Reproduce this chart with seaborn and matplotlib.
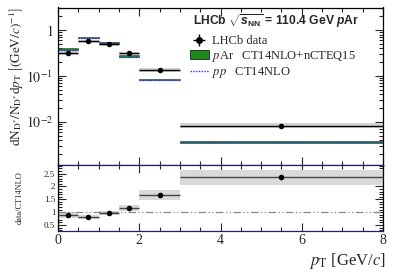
import numpy as np
import pandas as pd
import seaborn as sns
import matplotlib
matplotlib.use("Agg")
import matplotlib.pyplot as plt
from matplotlib.patches import Rectangle, Patch
from matplotlib.lines import Line2D
from matplotlib.ticker import FixedLocator, MultipleLocator, LogLocator, NullFormatter, FixedFormatter

# ---- data ----
bin_edges = [0.0, 0.5, 1.0, 1.5, 2.0, 3.0, 8.0]
data_vals = [0.32, 0.57, 0.50, 0.31, 0.135, 0.0083]
data_stat = [0.01, 0.015, 0.012, 0.01, 0.004, 0.0004]
data_syst_rel = [0.10, 0.09, 0.08, 0.09, 0.11, 0.12]
pAr_vals = [0.385, 0.70, 0.53, 0.275, 0.083, 0.0037]
pAr_rel = [0.035, 0.035, 0.035, 0.035, 0.035, 0.035]
pp_vals = [0.37, 0.685, 0.52, 0.265, 0.080, 0.0036]
ratio_vals = [0.88, 0.82, 0.97, 1.17, 1.68, 2.36]
ratio_stat = [0.02, 0.02, 0.02, 0.03, 0.03, 0.10]
ratio_syst = [0.11, 0.09, 0.08, 0.11, 0.19, 0.29]
ytick_vals = [1e-2, 1e-1, 1.0]
ytick_labels = [r"$10^{-2}$", r"$10^{-1}$", r"$1$"]

edges = np.array(bin_edges)
lo, hi = edges[:-1], edges[1:]
centers = 0.5 * (lo + hi)
halfw = 0.5 * (hi - lo)
df = pd.DataFrame({"pt": centers, "data": data_vals, "ratio": ratio_vals})

sns.set_style("ticks")
plt.rcParams["font.family"] = ["Liberation Serif", "DejaVu Serif"]
plt.rcParams["mathtext.fontset"] = "stix"
plt.rcParams["mathtext.rm"] = "Liberation Sans:bold"
plt.rcParams["mathtext.it"] = "Liberation Sans:italic:bold"
plt.rcParams["mathtext.bf"] = "Liberation Sans:bold"

fig = plt.figure(figsize=(4.07, 2.76), dpi=100)
L, R = 58 / 407, 383 / 407
ax = fig.add_axes([L, 1 - 165 / 276, R - L, (165 - 7.5) / 276])
axr = fig.add_axes([L, 1 - 231 / 276, R - L, (231 - 165) / 276])

# ---- top panel ----
for i in range(len(centers)):
    s = data_vals[i] * data_syst_rel[i]
    ax.add_patch(Rectangle((lo[i], data_vals[i] - s), hi[i] - lo[i], 2 * s,
                           facecolor="#d4d4d4", edgecolor="none", zorder=1))
    r = pAr_vals[i] * pAr_rel[i]
    ax.add_patch(Rectangle((lo[i], pAr_vals[i] - r), hi[i] - lo[i], 2 * r,
                           facecolor="#1a8a1a", edgecolor="#333333", lw=0.4, zorder=2))
    ax.plot([lo[i], hi[i]], [pp_vals[i], pp_vals[i]], color="#2233ee", lw=1.0,
            ls=(0, (1, 1)), zorder=3)
eb = ax.errorbar(centers, data_vals, xerr=halfw, yerr=data_stat, fmt="none",
                 ecolor="black", elinewidth=1.0, capsize=0, zorder=4)
sns.scatterplot(data=df, x="pt", y="data", ax=ax, color="black", s=16,
                edgecolor="black", linewidth=0, zorder=5, legend=False)
ax.set_yscale("log")
ax.set_xlim(0, 8)
ax.set_ylim(1.16e-3, 3.1)
ax.yaxis.set_major_locator(FixedLocator(ytick_vals))
ax.yaxis.set_major_formatter(FixedFormatter(ytick_labels))
ax.yaxis.set_minor_locator(LogLocator(base=10, subs=np.arange(2, 10)))
ax.yaxis.set_minor_formatter(NullFormatter())
ax.xaxis.set_major_locator(MultipleLocator(2))
ax.xaxis.set_minor_locator(MultipleLocator(0.5))
ax.tick_params(axis="x", labelbottom=False)
ax.tick_params(which="both", direction="in", top=True, right=True, labelsize=10, width=0.8)
ax.tick_params(which="major", length=6)
ax.tick_params(which="minor", length=3)
ax.set_xlabel("")
ax.set_ylabel(r"$\mathrm{dN_{D^{*}}/N_{D^{*}}d}p_{\mathrm{T}}\ \left[(\mathrm{GeV}/c)^{-1}\right]$",
              fontsize=9.5)
ax.yaxis.set_label_coords(-0.10, 0.56)
for sp in ax.spines.values():
    sp.set_color("black")
    sp.set_linewidth(0.9)
ax.spines["bottom"].set_color("#20206a")

ax.text(0.415, 0.915, r"LHCb $\sqrt{s_{\mathrm{NN}}}$ = 110.4 GeV $p$Ar",
        transform=ax.transAxes, fontsize=8.7, fontweight="bold",
        family="Liberation Sans", math_fontfamily="custom", va="center", ha="left")

marker_handle = Line2D([], [], color="black", marker="o", ms=4, ls="none")
handles = [(eb, marker_handle),
           Patch(facecolor="#1a8a1a", edgecolor="#222222", lw=0.6),
           Line2D([], [], color="#2233ee", lw=1.0, ls=(0, (1, 1)))]
labels = ["LHCb data", r"$p$Ar   CT14NLO+nCTEQ15", r"$pp$   CT14NLO"]
ax.legend(handles, labels, loc="upper left", bbox_to_anchor=(0.39, 0.855),
          frameon=False, fontsize=9, handlelength=1.5, handletextpad=0.3,
          labelspacing=0.12, borderaxespad=0)

# ---- ratio panel ----
for i in range(len(centers)):
    axr.add_patch(Rectangle((lo[i], ratio_vals[i] - ratio_syst[i]), hi[i] - lo[i],
                            2 * ratio_syst[i], facecolor="#d9d9d9",
                            edgecolor="none", zorder=1))
axr.axhline(1.0, color="#888888", lw=0.9, ls=(0, (6, 2, 1, 2, 1, 2)), zorder=2)
axr.errorbar(centers, ratio_vals, xerr=halfw, yerr=ratio_stat, fmt="none",
             ecolor="#444444", elinewidth=1.0, capsize=0, zorder=3)
sns.scatterplot(data=df, x="pt", y="ratio", ax=axr, color="black", s=16,
                edgecolor="black", linewidth=0, zorder=5, legend=False)
axr.set_xlim(0, 8)
axr.set_ylim(0.27, 2.83)
axr.yaxis.set_major_locator(FixedLocator([0.5, 1.0, 1.5, 2.0, 2.5]))
axr.yaxis.set_major_formatter(FixedFormatter(["0.5", "1", "1.5", "2", "2.5"]))
axr.yaxis.set_minor_locator(MultipleLocator(0.1))
axr.xaxis.set_major_locator(MultipleLocator(2))
axr.xaxis.set_minor_locator(MultipleLocator(0.5))
axr.tick_params(which="both", direction="in", top=True, right=True, width=0.8)
axr.tick_params(axis="x", labelsize=10, pad=2)
axr.tick_params(axis="y", labelsize=6.5, pad=2)
axr.tick_params(which="major", length=6)
axr.tick_params(which="minor", length=3)
axr.set_ylabel("data/CT14NLO", fontsize=6)
axr.yaxis.set_label_coords(-0.105, 0.5)
axr.set_xlabel(r"$p_{\mathrm{T}}$ [GeV/$c$]", fontsize=12)
axr.xaxis.set_label_coords(1.01, -0.30)
axr.xaxis.label.set_ha("right")
for sp in axr.spines.values():
    sp.set_color("black")
    sp.set_linewidth(0.9)
axr.spines["bottom"].set_color("#20206a")
axr.spines["top"].set_color("#20206a")

fig.savefig("out.png", dpi=100)
